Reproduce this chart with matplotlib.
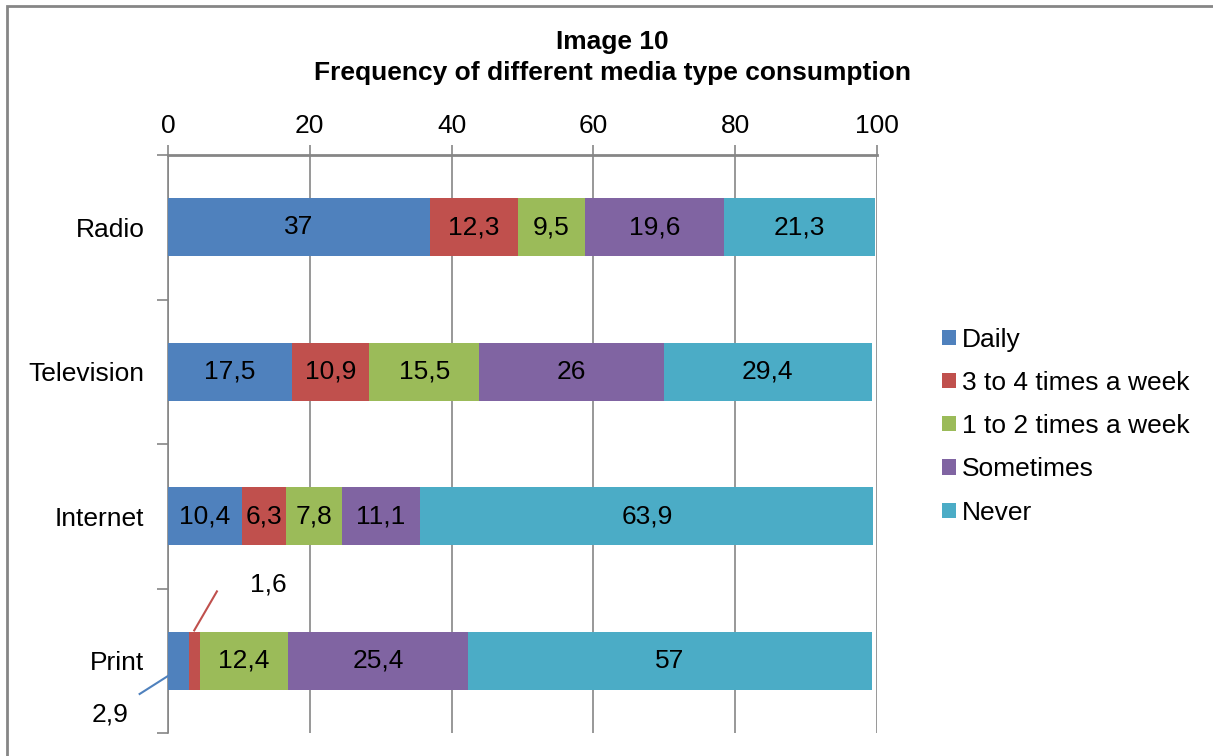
import matplotlib.pyplot as plt
import numpy as np

plt.rcParams['font.family'] = ['Liberation Sans', 'DejaVu Sans']

media = ["Radio", "Television", "Internet", "Print"]
series = ["Daily", "3 to 4 times a week", "1 to 2 times a week", "Sometimes", "Never"]
daily = [37, 17.5, 10.4, 2.9]
few_times = [12.3, 10.9, 6.3, 1.6]
once_twice = [9.5, 15.5, 7.8, 12.4]
sometimes = [19.6, 26, 11.1, 25.4]
never = [21.3, 29.4, 63.9, 57]
colors = ["#4F81BD", "#C0504D", "#9BBB59", "#8064A2", "#4BACC6"]

values = [daily, few_times, once_twice, sometimes, never]
FS = 19

fig = plt.figure(figsize=(12.13, 7.56), dpi=100)
ax = fig.add_axes([168 / 1213, 1 - 733 / 756, (877 - 168) / 1213, (733 - 155) / 756])

y = np.arange(len(media))
left = np.zeros(len(media))
for name, vals, c in zip(series, values, colors):
    vals = np.array(vals, dtype=float)
    ax.barh(y, vals, left=left, height=0.4, color=c, label=name,
            edgecolor="none", zorder=3)
    for i, v in enumerate(vals):
        if v < 3:
            continue
        ax.text(left[i] + v / 2, y[i], f"{v:g}".replace(".", ","),
                ha="center", va="center", fontsize=FS, zorder=4)
    left += vals

# small Print segments get labels pulled out with leader lines
pi = media.index("Print")
d, f = daily[pi], few_times[pi]
ax.plot([d * 0.5, -4.0], [pi + 0.06, pi + 0.23], color=colors[0], lw=1.5,
        clip_on=False, zorder=5)
ax.text(-8.2, pi + 0.375, f"{d:g}".replace(".", ","), ha="center", va="center",
        fontsize=FS)
ax.plot([d + f / 2, 6.9], [pi - 0.21, pi - 0.48], color=colors[1], lw=1.5,
        clip_on=False, zorder=5)
ax.text(14.1, pi - 0.53, f"{f:g}".replace(".", ","), ha="center", va="center",
        fontsize=FS)

ax.set_xlim(0, 100)
ax.set_ylim(len(media) - 0.5, -0.5)
ax.xaxis.tick_top()
ax.set_xticks(np.arange(0, 101, 20))
ax.tick_params(axis="x", labelsize=FS, length=7, color="#868686", width=1.2, pad=5)
ax.set_yticks(y)
ax.set_yticklabels(media)
ax.tick_params(axis="y", which="major", length=0, labelsize=FS, pad=17)
ax.set_yticks(np.arange(-0.5, len(media), 1), minor=True)
ax.tick_params(axis="y", which="minor", length=8, color="#868686", width=1.2)
ax.grid(axis="x", color="#868686", lw=1.2, zorder=0)

for s in ["right", "bottom"]:
    ax.spines[s].set_visible(False)
ax.spines["left"].set_color("#868686")
ax.spines["left"].set_linewidth(1.2)
ax.spines["top"].set_color("#868686")
ax.spines["top"].set_linewidth(2)

ax.legend(loc="center left", bbox_to_anchor=(1.058, 0.531), frameon=False,
          fontsize=FS, handlelength=0.52, handleheight=0.52, handletextpad=0.25,
          labelspacing=0.73)

fig.text(612 / 1213, 1 - 42 / 756, "Image 10", ha="center", va="center",
         fontsize=FS, fontweight="bold")
fig.text(612 / 1213, 1 - 73 / 756, "Frequency of different media type consumption",
         ha="center", va="center", fontsize=FS, fontweight="bold")

# outer frame (only left and top edges fall inside the canvas)
fig.patches.append(plt.Rectangle((6.5 / 1213, -0.05), 1.1, 1 - 6 / 756 + 0.05,
                                 transform=fig.transFigure, fill=False,
                                 edgecolor="#868686", lw=2))

fig.savefig("out.png", dpi=100)
